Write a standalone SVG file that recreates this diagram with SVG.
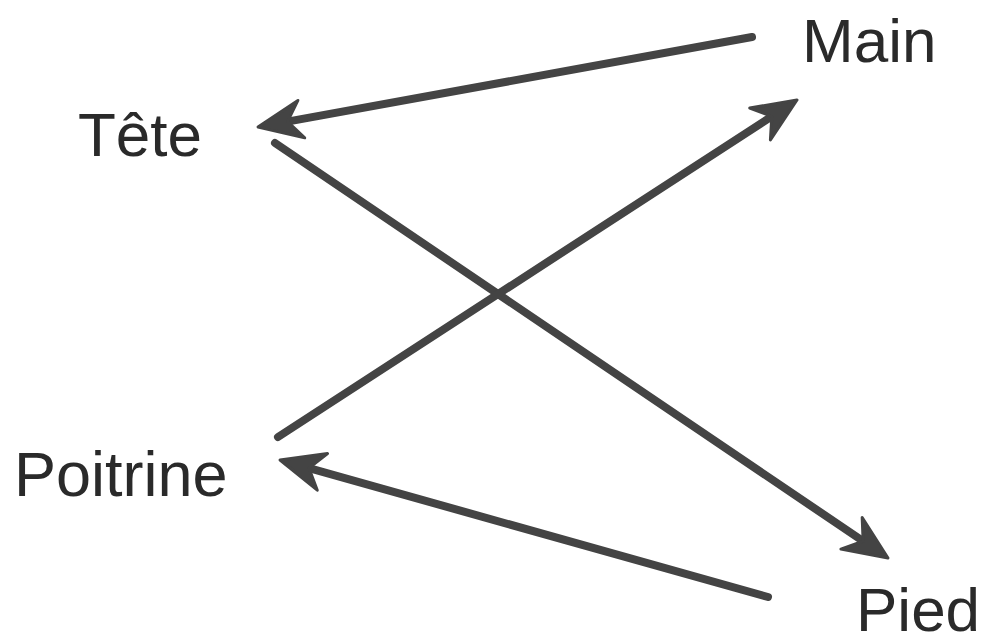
<svg xmlns="http://www.w3.org/2000/svg" width="982" height="643" viewBox="0 0 982 643">
<style>
.lbl{font-family:"Liberation Sans",Arial,sans-serif;font-size:62px;fill:#2a2a2a}
.edge{stroke:#444;stroke-width:8;fill:none;stroke-linecap:round;marker-end:url(#ah)}
</style>
<defs>
<marker id="ah" markerUnits="userSpaceOnUse" viewBox="-30 -25 55 50" refX="0" refY="0" markerWidth="55" markerHeight="50" orient="auto" overflow="visible">
<path d="M20,0 L-24,-19 L-10,0 L-24,19 Z" fill="#444" stroke="#444" stroke-width="3" stroke-linejoin="round"/>
</marker>
</defs>
<rect width="982" height="643" fill="#fff"/>
<g id="tete"><text class="lbl" x="78" y="156">Tête</text></g>
<g id="main"><text class="lbl" x="802" y="62">Main</text></g>
<g id="poitrine"><text class="lbl" x="14" y="496" style="font-size:63px">Poitrine</text></g>
<g id="pied"><text class="lbl" x="856" y="631">Pied</text></g>
<g id="connectors">
<line class="edge" x1="752" y1="37" x2="277.7" y2="123.4"/>
<line class="edge" x1="275" y1="143" x2="871.4" y2="546.8"/>
<line class="edge" x1="278" y1="437" x2="780.2" y2="110.9"/>
<line class="edge" x1="768" y1="597" x2="299.3" y2="465.4"/>
</g>
</svg>
